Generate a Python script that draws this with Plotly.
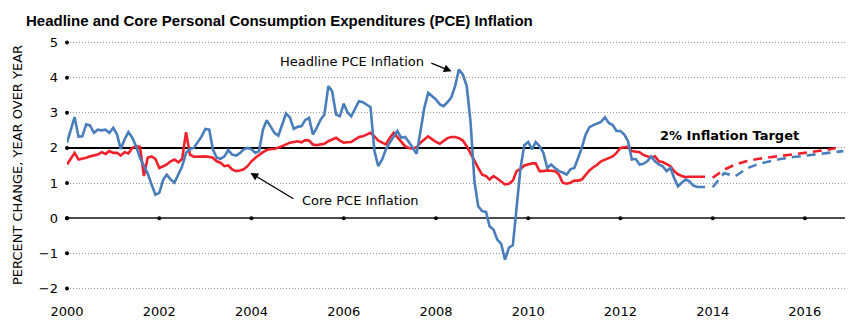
import pandas as pd
import plotly.graph_objects as go

# Year-over-year percent change, monthly, Jan 2000 - Nov 2013
headline_pce = [
    2.15, 2.55, 2.88, 2.32, 2.33, 2.67, 2.64, 2.43, 2.52, 2.50, 2.52, 2.43,   # 2000
    2.57, 2.38, 1.97, 2.24, 2.45, 2.29, 2.05, 1.72, 1.48, 1.27, 0.96, 0.67,   # 2001
    0.72, 1.10, 1.24, 1.10, 1.01, 1.24, 1.48, 1.86, 1.97, 2.00, 2.15, 2.32,   # 2002
    2.54, 2.52, 1.96, 1.72, 1.69, 1.76, 1.94, 1.81, 1.78, 1.85, 1.96, 2.00,   # 2003
    1.96, 1.86, 1.91, 2.52, 2.79, 2.62, 2.43, 2.35, 2.67, 2.98, 2.86, 2.54,   # 2004
    2.60, 2.62, 2.79, 2.86, 2.38, 2.57, 2.80, 2.95, 3.76, 3.61, 2.95, 2.90,   # 2005
    3.26, 3.00, 2.90, 3.14, 3.33, 3.30, 3.24, 3.16, 1.91, 1.48, 1.67, 1.96,   # 2006
    2.15, 2.33, 2.48, 2.29, 2.31, 2.17, 2.00, 1.83, 2.48, 3.14, 3.57, 3.47,   # 2007
    3.38, 3.24, 3.19, 3.30, 3.43, 3.76, 4.23, 4.09, 3.76, 2.75, 1.05, 0.34,   # 2008
    0.20, 0.18, -0.23, -0.32, -0.61, -0.73, -1.18, -0.84, -0.77, 0.30, 1.43, 2.08,  # 2009
    2.17, 1.96, 2.17, 2.05, 1.86, 1.43, 1.53, 1.43, 1.34, 1.30, 1.24, 1.39,   # 2010
    1.43, 1.72, 2.00, 2.38, 2.59, 2.65, 2.70, 2.74, 2.87, 2.71, 2.65, 2.48,   # 2011
    2.48, 2.38, 2.20, 1.67, 1.69, 1.53, 1.55, 1.62, 1.76, 1.62, 1.53, 1.48,   # 2012
    1.34, 1.43, 1.15, 0.91, 1.01, 1.10, 1.05, 0.93, 0.89, 0.89, 0.89,         # 2013
]

core_pce = [
    1.53, 1.70, 1.86, 1.67, 1.69, 1.72, 1.76, 1.78, 1.81, 1.88, 1.83, 1.91,   # 2000
    1.86, 1.86, 1.78, 1.88, 1.84, 2.00, 2.05, 2.03, 1.20, 1.72, 1.76, 1.69,   # 2001
    1.43, 1.48, 1.53, 1.62, 1.67, 1.59, 1.69, 2.45, 1.81, 1.75, 1.76, 1.75,   # 2002
    1.76, 1.74, 1.72, 1.62, 1.58, 1.48, 1.50, 1.39, 1.34, 1.36, 1.39, 1.48,   # 2003
    1.62, 1.72, 1.81, 1.88, 1.94, 1.97, 1.97, 2.00, 2.05, 2.10, 2.15, 2.17,   # 2004
    2.19, 2.16, 2.22, 2.21, 2.10, 2.08, 2.10, 2.12, 2.19, 2.25, 2.29, 2.21,   # 2005
    2.15, 2.16, 2.17, 2.24, 2.31, 2.33, 2.38, 2.43, 2.33, 2.21, 2.15, 2.10,   # 2006
    2.29, 2.43, 2.31, 2.17, 2.05, 2.00, 1.98, 2.02, 2.15, 2.24, 2.33, 2.25,   # 2007
    2.17, 2.12, 2.20, 2.28, 2.31, 2.31, 2.28, 2.21, 2.05, 1.83, 1.62, 1.43,   # 2008
    1.24, 1.20, 1.10, 1.20, 1.13, 1.05, 0.96, 0.98, 1.07, 1.34, 1.40, 1.50,   # 2009
    1.53, 1.56, 1.56, 1.34, 1.34, 1.36, 1.35, 1.34, 1.24, 1.01, 0.98, 1.01,   # 2010
    1.07, 1.07, 1.10, 1.24, 1.36, 1.45, 1.52, 1.62, 1.67, 1.72, 1.76, 1.86,   # 2011
    2.00, 2.02, 2.03, 1.91, 1.90, 1.88, 1.80, 1.76, 1.72, 1.76, 1.62, 1.60,   # 2012
    1.55, 1.48, 1.34, 1.25, 1.20, 1.17, 1.18, 1.18, 1.18, 1.18, 1.18,         # 2013
]

months = pd.date_range("2000-01-01", periods=len(headline_pce), freq="MS")

# Projected path, 2014 onward
headline_proj_dates = ["2014-01-01", "2014-04-01", "2014-07-01", "2014-10-01",
                       "2015-01-01", "2015-04-01", "2015-07-01", "2015-10-01",
                       "2016-01-01", "2016-04-01", "2016-07-01", "2016-11-01"]
headline_proj = [0.88, 1.28, 1.20, 1.42, 1.55, 1.63, 1.69, 1.74, 1.78, 1.81, 1.86, 1.91]

core_proj_dates = ["2014-01-01", "2014-04-01", "2014-07-01", "2014-10-01",
                   "2015-01-01", "2015-04-01", "2015-07-01", "2015-10-01",
                   "2016-01-01", "2016-04-01", "2016-07-01", "2016-09-01"]
core_proj = [1.15, 1.38, 1.53, 1.63, 1.69, 1.74, 1.78, 1.82, 1.86, 1.90, 1.95, 2.00]

inflation_target = 2.0
target_dates = ["2000-01-01", "2016-09-01"]

y_ticks = [-2, -1, 0, 1, 2, 3, 4, 5]
x_tick_years = [2000, 2002, 2004, 2006, 2008, 2010, 2012, 2014, 2016]

BLUE = "#4a7ebb"
RED = "#f2202a"
FONT = "DejaVu Sans"

# plot-area geometry in pixels (used to place the rotated axis title)
W, H = 850, 328
M_L, M_R, M_T, M_B = 67, 5, 39, 36
PLOT_W = W - M_L - M_R

fig = go.Figure()

# 2% target line
fig.add_trace(go.Scatter(
    x=target_dates, y=[inflation_target] * len(target_dates),
    mode="lines", line=dict(color="black", width=2), hoverinfo="skip"))

# Core PCE (actual + projection)
fig.add_trace(go.Scatter(x=months, y=core_pce, mode="lines",
                         line=dict(color=RED, width=2.6)))
fig.add_trace(go.Scatter(x=core_proj_dates, y=core_proj, mode="lines",
                         line=dict(color=RED, width=2.6, dash="9px,6px")))

# Headline PCE (actual + projection)
fig.add_trace(go.Scatter(x=months, y=headline_pce, mode="lines",
                         line=dict(color=BLUE, width=2.6)))
fig.add_trace(go.Scatter(x=headline_proj_dates, y=headline_proj, mode="lines",
                         line=dict(color=BLUE, width=2.6, dash="9px,6px")))

# Axis dots: along the y axis and along the zero line
fig.add_trace(go.Scatter(
    x=[pd.Timestamp(year=x_tick_years[0], month=1, day=1)] * len(y_ticks), y=y_ticks,
    mode="markers", marker=dict(color="black", size=4), cliponaxis=False))
fig.add_trace(go.Scatter(
    x=[pd.Timestamp(year=yr, month=1, day=1) for yr in x_tick_years], y=[0] * len(x_tick_years),
    mode="markers", marker=dict(color="black", size=4), cliponaxis=False))

annotations = [
    dict(text="Headline PCE Inflation", x="2006-03-07", y=4.47, xref="x", yref="y",
         showarrow=False, font=dict(family=FONT, size=13, color="black")),
    dict(text="", x="2008-05-04", y=4.18, ax="2007-11-14", ay=4.43,
         xref="x", yref="y", axref="x", ayref="y",
         showarrow=True, arrowhead=2, arrowsize=1.3, arrowwidth=1.2, arrowcolor="black"),
    dict(text="Core PCE Inflation", x="2006-05-11", y=0.50, xref="x", yref="y",
         showarrow=False, font=dict(family=FONT, size=13, color="black")),
    dict(text="", x="2003-12-24", y=1.29, ax="2004-12-10", ay=0.53,
         xref="x", yref="y", axref="x", ayref="y",
         showarrow=True, arrowhead=2, arrowsize=1.3, arrowwidth=1.2, arrowcolor="black"),
    dict(text="<b>2% Inflation Target</b>", x="2014-05-15", y=2.35, xref="x", yref="y",
         showarrow=False, font=dict(family=FONT, size=13, color="black")),
    dict(text="PERCENT CHANGE, YEAR OVER YEAR", textangle=-90,
         x=(17.5 - M_L) / PLOT_W, y=0.5, xref="paper", yref="paper",
         xanchor="center", yanchor="middle",
         showarrow=False, font=dict(family=FONT, size=13, color="black")),
]

fig.update_layout(
    width=W, height=H,
    margin=dict(l=M_L, r=M_R, t=M_T, b=M_B, pad=0),
    paper_bgcolor="white", plot_bgcolor="white",
    showlegend=False,
    title=dict(text="<b>Headline and Core Personal Consumption Expenditures (PCE) Inflation</b>",
               xref="container", yref="container", x=26 / W, xanchor="left",
               y=1 - 21 / H, yanchor="middle",
               font=dict(family="Liberation Sans", size=15, color="black")),
    annotations=annotations,
)

fig.update_xaxes(
    type="date", range=["2000-01-01", "2016-11-14"],
    tickmode="array",
    tickvals=[pd.Timestamp(year=yr, month=1, day=1) for yr in x_tick_years],
    ticktext=[str(yr) for yr in x_tick_years],
    showgrid=False, zeroline=False, showline=False, ticks="",
    ticklabelstandoff=10,
    tickfont=dict(family=FONT, size=13, color="black"),
)
fig.update_yaxes(
    range=[-2.1, 5.1], tickvals=y_ticks,
    showgrid=True, gridcolor="#9a9a9a", gridwidth=1, griddash="1px,2px",
    zeroline=True, zerolinecolor="#4d4d4d", zerolinewidth=2,
    showline=False, ticks="", ticklabelstandoff=8,
    tickfont=dict(family=FONT, size=13, color="black"),
)

fig.write_html("out.html")
